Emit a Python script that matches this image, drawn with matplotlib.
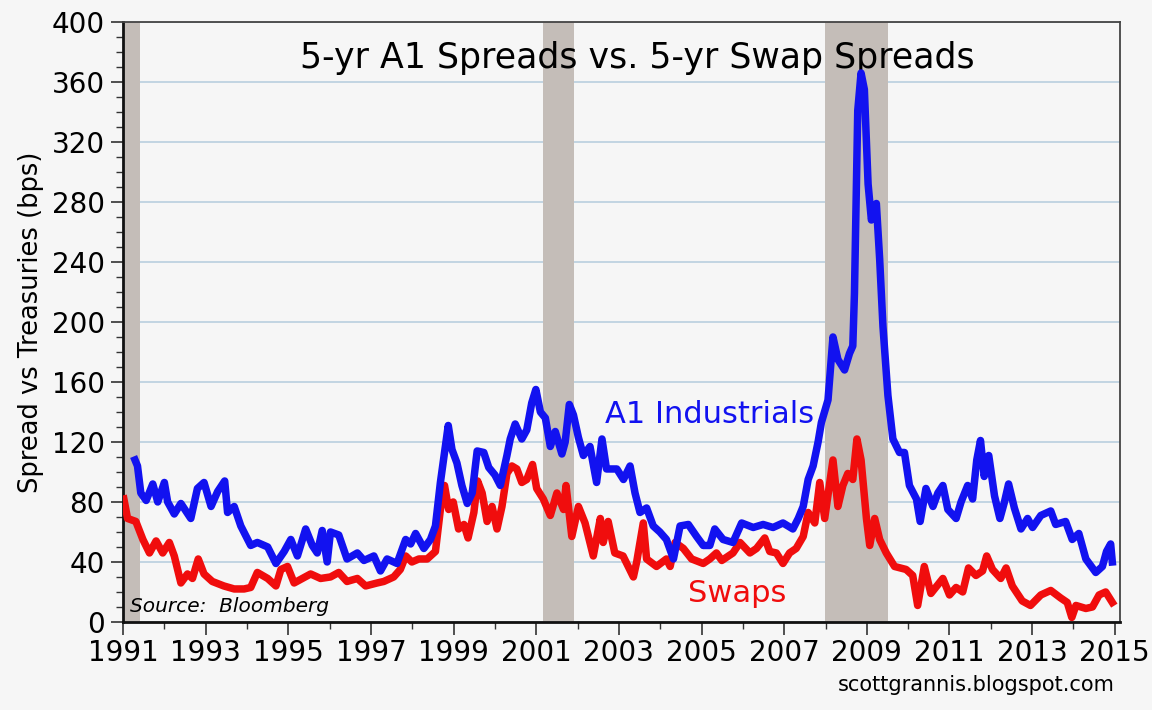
import matplotlib
matplotlib.use("Agg")
import matplotlib.pyplot as plt
from matplotlib.ticker import MultipleLocator

# 5-yr A1 industrial spread (bps)
a1_years = [1991.29, 1991.35, 1991.43, 1991.56, 1991.72, 1991.84, 1992.00, 1992.08, 1992.24, 1992.40,
            1992.64, 1992.80, 1992.96, 1993.13, 1993.29, 1993.46, 1993.53, 1993.69, 1993.85, 1994.09,
            1994.25, 1994.50, 1994.70, 1994.90, 1995.06, 1995.22, 1995.42, 1995.58, 1995.70, 1995.82,
            1995.94, 1996.02, 1996.22, 1996.42, 1996.67, 1996.83, 1997.07, 1997.23, 1997.39, 1997.63,
            1997.84, 1997.96, 1998.08, 1998.28, 1998.44, 1998.56, 1998.68, 1998.80, 1998.87, 1998.96,
            1999.08, 1999.20, 1999.33, 1999.45, 1999.57, 1999.73, 1999.85, 2000.00, 2000.13, 2000.29,
            2000.37, 2000.49, 2000.65, 2000.77, 2000.89, 2000.99, 2001.10, 2001.22, 2001.34, 2001.46,
            2001.62, 2001.70, 2001.80, 2001.90, 2002.02, 2002.14, 2002.30, 2002.46, 2002.59, 2002.70,
            2002.95, 2003.11, 2003.27, 2003.39, 2003.51, 2003.67, 2003.83, 2003.99, 2004.15, 2004.32,
            2004.48, 2004.68, 2004.88, 2005.04, 2005.20, 2005.32, 2005.52, 2005.76, 2005.97, 2006.25,
            2006.49, 2006.73, 2006.97, 2007.21, 2007.34, 2007.46, 2007.58, 2007.70, 2007.82, 2007.90,
            2008.06, 2008.18, 2008.30, 2008.46, 2008.58, 2008.66, 2008.70, 2008.78, 2008.86, 2008.94,
            2009.03, 2009.11, 2009.23, 2009.31, 2009.39, 2009.51, 2009.63, 2009.79, 2009.91, 2010.03,
            2010.20, 2010.29, 2010.43, 2010.60, 2010.72, 2010.84, 2010.96, 2011.16, 2011.28, 2011.44,
            2011.56, 2011.66, 2011.75, 2011.84, 2011.95, 2012.09, 2012.22, 2012.33, 2012.43, 2012.57,
            2012.73, 2012.89, 2013.01, 2013.21, 2013.45, 2013.57, 2013.81, 2013.97, 2014.13, 2014.30,
            2014.54, 2014.70, 2014.80, 2014.90, 2014.94]
a1_values = [108, 104, 86, 81, 92, 80, 93, 80, 72, 79,
             69, 89, 93, 77, 87, 94, 73, 77, 64, 51,
             53, 50, 39, 47, 55, 44, 62, 51, 46, 61,
             40, 60, 58, 42, 46, 41, 44, 34, 42, 39,
             55, 52, 59, 49, 55, 64, 93, 117, 131, 115,
             106, 91, 79, 86, 114, 113, 103, 98, 91, 111,
             122, 132, 122, 128, 146, 155, 140, 136, 117, 127,
             112, 120, 145, 138, 123, 111, 117, 93, 122, 102,
             102, 95, 104, 86, 73, 76, 64, 60, 55, 42,
             64, 65, 57, 51, 51, 62, 55, 53, 66, 63,
             65, 63, 66, 62, 69, 77, 95, 104, 120, 133,
             148, 190, 175, 168, 179, 184, 219, 341, 366, 355,
             292, 268, 279, 242, 197, 151, 122, 113, 113, 91,
             82, 67, 89, 77, 86, 91, 75, 69, 80, 91,
             82, 108, 121, 97, 111, 84, 69, 80, 92, 76,
             62, 69, 63, 71, 74, 65, 67, 55, 59, 42,
             33, 37, 47, 52, 40]

# 5-yr swap spread (bps)
swap_years = [1991.02, 1991.11, 1991.31, 1991.48, 1991.64, 1991.80, 1991.96, 1992.12, 1992.24, 1992.40,
              1992.56, 1992.68, 1992.82, 1992.96, 1993.16, 1993.44, 1993.69, 1993.93, 1994.09, 1994.25,
              1994.50, 1994.70, 1994.82, 1994.98, 1995.14, 1995.34, 1995.54, 1995.78, 1996.02, 1996.22,
              1996.42, 1996.67, 1996.87, 1997.15, 1997.31, 1997.55, 1997.71, 1997.84, 1997.99, 1998.16,
              1998.36, 1998.56, 1998.68, 1998.78, 1998.88, 1998.99, 1999.12, 1999.25, 1999.35, 1999.49,
              1999.58, 1999.69, 1999.81, 1999.93, 2000.05, 2000.17, 2000.29, 2000.41, 2000.53, 2000.65,
              2000.77, 2000.91, 2001.01, 2001.17, 2001.34, 2001.50, 2001.66, 2001.72, 2001.86, 2002.02,
              2002.18, 2002.38, 2002.55, 2002.62, 2002.74, 2002.90, 2003.10, 2003.35, 2003.43, 2003.59,
              2003.67, 2003.91, 2004.15, 2004.24, 2004.36, 2004.56, 2004.76, 2005.04, 2005.20, 2005.36,
              2005.49, 2005.76, 2005.93, 2006.17, 2006.33, 2006.53, 2006.65, 2006.81, 2006.97, 2007.13,
              2007.29, 2007.46, 2007.58, 2007.74, 2007.86, 2007.98, 2008.18, 2008.30, 2008.42, 2008.54,
              2008.66, 2008.76, 2008.86, 2008.99, 2009.07, 2009.19, 2009.31, 2009.47, 2009.67, 2009.95,
              2010.11, 2010.23, 2010.39, 2010.55, 2010.84, 2011.00, 2011.16, 2011.32, 2011.46, 2011.64,
              2011.80, 2011.90, 2012.04, 2012.24, 2012.37, 2012.52, 2012.76, 2012.96, 2013.21, 2013.45,
              2013.69, 2013.85, 2013.96, 2014.06, 2014.30, 2014.46, 2014.62, 2014.78, 2014.94]
swap_values = [82, 69, 67, 55, 46, 54, 46, 53, 44, 26,
               32, 29, 42, 32, 27, 24, 22, 22, 23, 33,
               29, 24, 35, 37, 26, 29, 32, 29, 30, 33,
               27, 29, 24, 26, 27, 30, 35, 44, 40, 42,
               42, 47, 75, 91, 75, 80, 62, 65, 56, 73,
               94, 86, 67, 77, 62, 77, 99, 104, 102, 93,
               95, 105, 89, 82, 71, 86, 75, 91, 57, 77,
               66, 44, 69, 53, 67, 46, 44, 30, 40, 66,
               42, 37, 42, 37, 53, 49, 42, 39, 42, 46,
               41, 46, 53, 46, 49, 56, 47, 46, 39, 46,
               49, 57, 73, 66, 93, 69, 108, 77, 91, 99,
               95, 122, 108, 69, 51, 69, 55, 46, 37, 35,
               31, 11, 37, 19, 29, 18, 23, 20, 36, 31,
               34, 44, 35, 29, 36, 24, 14, 11, 18, 21,
               16, 13, 3, 11, 9, 10, 18, 20, 13]

recessions = [(1990.9, 1991.42), (2001.17, 2001.92), (2007.98, 2009.52)]
year_ticks = list(range(1991, 2016, 2))

bg = "#f6f6f6"
fig = plt.figure(figsize=(11.52, 7.10), dpi=100, facecolor=bg)
ax = fig.add_axes([0.1068, 0.124, 0.8652, 0.845], facecolor=bg)

for start, end in recessions:
    ax.axvspan(start, end, color="#c4bdb8", lw=0, zorder=1)

ax.grid(axis="y", color="#b4cbdd", lw=1.1, zorder=0)
ax.plot(swap_years, swap_values, color="#f00d0d", lw=5.4, solid_joinstyle="round", zorder=3)
ax.plot(a1_years, a1_values, color="#1212f0", lw=5.4, solid_joinstyle="round", zorder=4)

ax.set_xlim(1991, 2015.12)
ax.set_ylim(0, 400)
ax.set_xticks(year_ticks)
ax.xaxis.set_minor_locator(MultipleLocator(1))
ax.yaxis.set_major_locator(MultipleLocator(40))
ax.yaxis.set_minor_locator(MultipleLocator(10))
ax.tick_params(axis="both", which="major", labelsize=20, length=9, width=1.2, direction="out", color="#333333")
ax.tick_params(axis="both", which="minor", length=5, width=1, direction="out", color="#333333")
ax.tick_params(axis="x", pad=3)
ax.tick_params(axis="y", pad=4)
ax.set_axisbelow(True)

for side in ["left", "bottom"]:
    ax.spines[side].set_linewidth(2)
    ax.spines[side].set_color("#111111")
for side in ["top", "right"]:
    ax.spines[side].set_linewidth(1.3)
    ax.spines[side].set_color("#444444")

ax.set_ylabel("Spread vs Treasuries (bps)", fontsize=18.5, labelpad=6)

ax.text(2003.45, 376, "5-yr A1 Spreads vs. 5-yr Swap Spreads", fontsize=25, ha="center", va="center")
ax.text(2002.67, 138, "A1 Industrials", fontsize=22, color="#1212f0", ha="left", va="center")
ax.text(2004.68, 19, "Swaps", fontsize=22, color="#f00d0d", ha="left", va="center")
ax.text(1991.17, 10, "Source:  Bloomberg", fontsize=14.5, style="italic", ha="left", va="center")
fig.text(0.968, 0.035, "scottgrannis.blogspot.com", fontsize=15, ha="right", va="center")

fig.savefig("out.png", dpi=100, facecolor=bg)
